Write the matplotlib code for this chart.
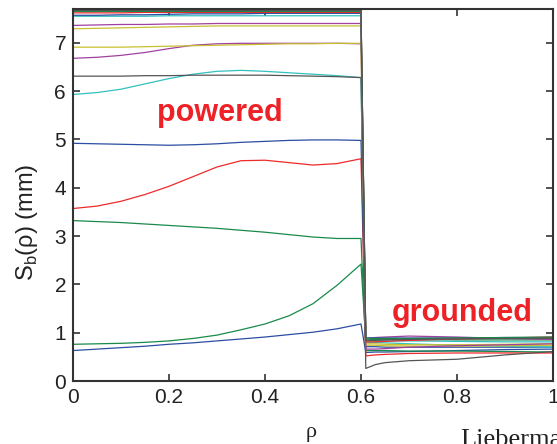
import matplotlib
matplotlib.use("Agg")
import matplotlib.pyplot as plt

# sheath width vs radius, powered electrode (rho <= 0.6) and grounded one (rho > 0.6)
rho_powered = [0, 0.05, 0.1, 0.15, 0.2, 0.25, 0.3, 0.35, 0.4, 0.45, 0.5, 0.55, 0.6]
rho_grounded = [0.61, 0.63, 0.65, 0.7, 0.8, 0.9, 1.0]

colores = ["#2b4ea2", "#1a8a4a", "#1a8a4a", "#ee2a2a", "#2b4ea2", "#33c0c0",
           "#555555", "#a040a0", "#c8c030", "#c8c030", "#a040a0", "#33c0c0",
           "#2b4ea2", "#ee2a2a", "#1a8a4a", "#555555"]

sb_powered = [
    [0.63, 0.66, 0.69, 0.72, 0.76, 0.79, 0.83, 0.87, 0.91, 0.96, 1.01, 1.08, 1.18],
    [0.76, 0.77, 0.78, 0.80, 0.83, 0.88, 0.95, 1.06, 1.18, 1.35, 1.60, 1.98, 2.42],
    [3.32, 3.30, 3.28, 3.25, 3.22, 3.19, 3.16, 3.12, 3.08, 3.03, 2.98, 2.95, 2.95],
    [3.57, 3.62, 3.72, 3.86, 4.03, 4.23, 4.43, 4.56, 4.57, 4.52, 4.47, 4.50, 4.60],
    [4.92, 4.91, 4.90, 4.89, 4.88, 4.89, 4.91, 4.94, 4.96, 4.98, 4.99, 4.99, 4.98],
    [5.93, 5.97, 6.04, 6.15, 6.26, 6.35, 6.41, 6.43, 6.41, 6.38, 6.35, 6.32, 6.28],
    [6.31, 6.31, 6.31, 6.32, 6.32, 6.33, 6.33, 6.33, 6.33, 6.32, 6.31, 6.30, 6.28],
    [6.68, 6.70, 6.74, 6.80, 6.88, 6.95, 6.98, 6.99, 6.99, 6.99, 6.99, 6.99, 6.98],
    [6.91, 6.91, 6.91, 6.92, 6.93, 6.94, 6.95, 6.96, 6.97, 6.98, 6.98, 6.99, 6.99],
    [7.29, 7.30, 7.31, 7.32, 7.33, 7.34, 7.35, 7.35, 7.35, 7.35, 7.35, 7.35, 7.35],
    [7.36, 7.37, 7.38, 7.38, 7.39, 7.39, 7.40, 7.40, 7.40, 7.40, 7.40, 7.40, 7.40],
    [7.55, 7.55, 7.55, 7.55, 7.56, 7.56, 7.56, 7.56, 7.56, 7.56, 7.56, 7.56, 7.56],
    [7.57, 7.57, 7.58, 7.58, 7.59, 7.60, 7.60, 7.60, 7.61, 7.61, 7.61, 7.61, 7.61],
    [7.62, 7.62, 7.62, 7.63, 7.63, 7.63, 7.63, 7.63, 7.63, 7.63, 7.63, 7.63, 7.63],
    [7.65, 7.65, 7.65, 7.65, 7.65, 7.65, 7.65, 7.65, 7.65, 7.65, 7.65, 7.65, 7.65],
    [7.67, 7.67, 7.67, 7.67, 7.67, 7.67, 7.67, 7.67, 7.67, 7.67, 7.67, 7.67, 7.67],
]

sb_grounded = [
    [0.59, 0.60, 0.60, 0.61, 0.63, 0.65, 0.66],
    [0.85, 0.86, 0.86, 0.86, 0.85, 0.85, 0.85],
    [0.63, 0.63, 0.63, 0.62, 0.62, 0.61, 0.60],
    [0.52, 0.54, 0.55, 0.57, 0.58, 0.58, 0.58],
    [0.71, 0.71, 0.70, 0.70, 0.70, 0.70, 0.70],
    [0.80, 0.80, 0.79, 0.77, 0.74, 0.72, 0.70],
    [0.26, 0.34, 0.38, 0.42, 0.45, 0.54, 0.61],
    [0.88, 0.90, 0.91, 0.93, 0.91, 0.88, 0.86],
    [0.77, 0.77, 0.76, 0.75, 0.75, 0.76, 0.77],
    [0.74, 0.74, 0.73, 0.72, 0.72, 0.73, 0.74],
    [0.66, 0.66, 0.67, 0.70, 0.73, 0.75, 0.77],
    [0.83, 0.83, 0.83, 0.83, 0.82, 0.81, 0.81],
    [0.89, 0.89, 0.89, 0.89, 0.89, 0.90, 0.90],
    [0.81, 0.81, 0.82, 0.84, 0.87, 0.89, 0.91],
    [0.88, 0.88, 0.88, 0.88, 0.89, 0.90, 0.91],
    [0.84, 0.84, 0.85, 0.86, 0.87, 0.88, 0.88],
]

xticks = [0, 0.2, 0.4, 0.6, 0.8, 1]
xtick_labels = ["0", "0.2", "0.4", "0.6", "0.8", "1"]
yticks = [0, 1, 2, 3, 4, 5, 6, 7]

plt.rcParams["font.family"] = ["Liberation Sans", "DejaVu Sans"]

fig = plt.figure(figsize=(5.57, 4.44), dpi=100)
ax = fig.add_axes([73 / 557, 63 / 444, 480 / 557, 372 / 444])

for sp, sg, c in zip(sb_powered, sb_grounded, colores):
    ax.plot(rho_powered + rho_grounded, sp + sg, color=c, lw=0.9)

ax.set_xlim(0, 1)
ax.set_ylim(0, 7.7)
ax.set_xticks(xticks)
ax.set_xticklabels(xtick_labels)
ax.set_yticks(yticks)
ax.tick_params(direction="in", top=True, right=True, length=5, width=1.2,
               color="#333333", labelsize=15, labelcolor="#222222", pad=5)
for sp in ax.spines.values():
    sp.set_color("#333333")
    sp.set_linewidth(1.5)

ax.text(0.305, 5.39, "powered", color="#ee2226", fontsize=22, fontweight="bold",
        ha="center", va="baseline")
ax.text(0.811, 1.25, "grounded", color="#ee2226", fontsize=22, fontweight="bold",
        ha="center", va="baseline")

fig.text(27 / 557, 1 - 222 / 444, r"S$_\mathregular{b}$(ρ) (mm)", rotation=90,
         fontsize=17, color="#222222", ha="center", va="center")
fig.text(311 / 557, 1 - 432 / 444, "ρ", fontsize=16, family="Liberation Serif",
         color="#222222", ha="center", va="center")
# caption at the bottom edge, runs off the page like in the printed figure
fig.text(460 / 557, 1 - 429 / 444, "Lieberman", fontsize=19, family="Liberation Serif",
         color="#222222", ha="left", va="top")

fig.savefig("out.png", dpi=100)
